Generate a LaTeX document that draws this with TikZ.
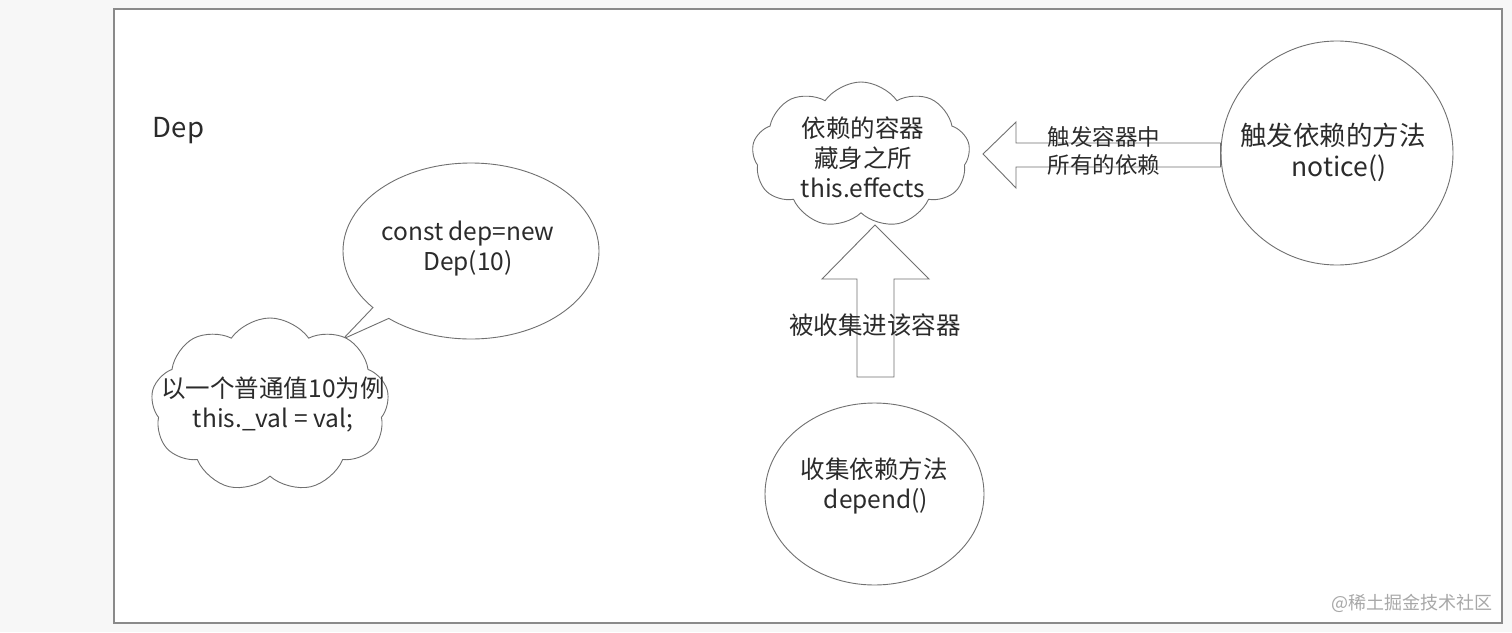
\documentclass[tikz,border=0pt]{standalone}
\usepackage{fontspec}
\setmainfont{Noto Sans CJK SC}
\usetikzlibrary{shapes.symbols,shapes.callouts,shapes.geometric}
\definecolor{pagebg}{HTML}{F7F7F7}
\definecolor{framegray}{HTML}{8A8A8A}
\definecolor{linegray}{HTML}{707070}
\definecolor{txt}{HTML}{2B2B2B}
\definecolor{wm}{HTML}{A8A8A8}
\tikzset{
  shapeline/.style={draw=linegray, line width=0.9pt, fill=white},
  blockarrow/.style={draw=linegray, line width=0.9pt, fill=white, line join=miter},
  lbl/.style={text=txt, align=center, inner sep=0pt, font=\fontsize{24.5}{30}\selectfont},
  biglbl/.style={text=txt, align=center, inner sep=0pt, font=\fontsize{26.5}{31}\selectfont},
  smalllbl/.style={text=txt, align=left, inner sep=0pt, font=\fontsize{22.5}{28}\selectfont},
  puffy/.style={cloud, shapeline, cloud puffs=9, cloud puff arc=110, inner sep=0pt},
}
\begin{document}
\begin{tikzpicture}[x=1pt,y=-1pt]
\useasboundingbox (0,0) rectangle (1512,632);
\fill[pagebg] (0,0) rectangle (1512,632);
\draw[draw=framegray, line width=1.6pt, fill=white] (114,9) rectangle (1502,623);

% title
\node[text=txt, inner sep=0pt, font=\fontsize{27.5}{30}\selectfont] (dep) at (178.5,131) {Dep};

% speech bubble
\coordinate (tip) at (343,339);
\node[ellipse callout, shapeline, minimum width=256, minimum height=176,
      callout absolute pointer=(tip), callout pointer arc=10] (bubble) at (471,251) {};
\node[lbl] (bubbletxt) at (468,248.5) {const dep=new\\Dep(10)};

% left cloud
\node[puffy, aspect=1.4, minimum width=238, minimum height=174] (valcloud) at (270,405) {};
\node[lbl] (valtxt) at (273,405) {以一个普通值10为例\\this.\_val = val;};

% container cloud
\node[puffy, aspect=1.5, minimum width=218, minimum height=146] (store) at (861,155) {};
\node[lbl] (storetxt) at (863,157) {依赖的容器\\藏身之所\\this.effects};

% right circle
\node[ellipse, shapeline, minimum width=232, minimum height=224, inner sep=0pt] (notice) at (1337,153) {};
\node[biglbl] (noticetxt) at (1333,152.5) {触发依赖的方法\\\hspace*{12pt}notice()};

% bottom circle
\node[ellipse, shapeline, minimum width=219, minimum height=182, inner sep=0pt] (collect) at (874.5,494) {};
\node[lbl] (collecttxt) at (874,485.5) {收集依赖方法\\\hspace*{4pt}depend()};

% block arrow: notice -> store
\draw[blockarrow] (983,154) -- (1016,122) -- (1016,143) -- (notice.west |- 0,143)
   -- (notice.west |- 0,167) -- (1016,167) -- (1016,188) -- cycle;
\node[smalllbl] (triggertxt) at (1104,151) {触发容器中\\所有的依赖};

% block arrow: collect -> store
\draw[blockarrow] (875,225) -- (929,279) -- (894,279) -- (894,377) -- (857,377)
   -- (857,279) -- (822,279) -- cycle;
\node[lbl] (collectlbl) at (875,325) {被收集进该容器};

% watermark
\node[text=wm, anchor=east, inner sep=0pt, font=\fontsize{18}{20}\selectfont] (wmark) at (1493,603) {@稀土掘金技术社区};
\end{tikzpicture}
\end{document}
